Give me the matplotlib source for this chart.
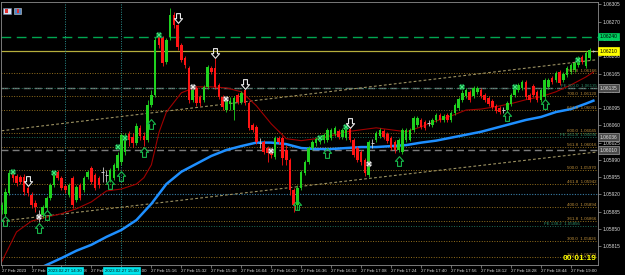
import numpy as np
import matplotlib

matplotlib.use("Agg")
import matplotlib.pyplot as plt
from matplotlib.path import Path
from matplotlib.patches import Rectangle
from matplotlib.transforms import blended_transform_factory

plt.rcParams["font.family"] = ["Liberation Sans", "DejaVu Sans"]

# prices are kept in points above BASE (1 point = 0.00001)
BASE = 1.05
PT = 1e-5

OPEN_PTS = [
    889, 881, 923, 964, 958, 956, 956, 933, 919, 903,
    881, 879, 893, 913, 939, 966, 954, 937, 919, 954,
    909, 939, 929, 956, 974, 960, 954, 966, 960, 950,
    954, 974, 986, 1006, 1043, 1037, 1025, 1055, 1039, 1031,
    1102, 1122, 1239, 1237, 1189, 1239, 1284, 1264, 1223, 1197,
    1177, 1112, 1136, 1118, 1112, 1138, 1177, 1177, 1142, 1118,
    1091, 1104, 1091, 1122, 1108, 1132, 1106, 1061, 1057, 1025,
    1027, 1014, 1010, 996, 1035, 1035, 1010, 990, 929, 899,
    933, 964, 986, 1014, 1025, 1027, 1031, 1031, 1035, 1043,
    1049, 1037, 1035, 1053, 1031, 1014, 1006, 990, 960, 1025,
    1031, 1039, 1049, 1043, 1035, 1027, 1010, 1006, 1031, 1031,
    1051, 1061, 1071, 1067, 1065, 1061, 1071, 1081, 1071, 1081,
    1071, 1085, 1096, 1112, 1120, 1128, 1120, 1128, 1132, 1122,
    1116, 1110, 1100, 1096, 1091, 1091, 1104, 1122, 1132, 1136,
    1148, 1122, 1140, 1128, 1112, 1118, 1138, 1156, 1152, 1169,
    1152, 1162, 1169, 1173, 1183, 1199, 1181, 1197, 1209,
]
CLOSE_PTS = [
    899, 925, 964, 954, 943, 945, 925, 923, 899, 895,
    881, 895, 913, 939, 960, 954, 933, 929, 939, 899,
    935, 913, 954, 966, 945, 933, 939, 966, 960, 970,
    980, 1000, 1041, 1037, 1031, 1025, 1059, 1039, 1031, 1102,
    1122, 1233, 1223, 1187, 1233, 1284, 1264, 1219, 1193, 1183,
    1112, 1132, 1106, 1106, 1138, 1179, 1169, 1138, 1118, 1098,
    1112, 1110, 1116, 1108, 1126, 1106, 1055, 1051, 1027, 1025,
    1006, 1004, 1000, 1035, 1027, 994, 990, 929, 899, 933,
    966, 986, 1014, 1027, 1033, 1031, 1041, 1051, 1051, 1055,
    1037, 1051, 1053, 1031, 1000, 990, 986, 964, 1027, 1025,
    1045, 1051, 1037, 1029, 1014, 1010, 1031, 1051, 1051, 1051,
    1075, 1075, 1057, 1055, 1065, 1071, 1081, 1071, 1079, 1071,
    1085, 1102, 1114, 1126, 1132, 1112, 1136, 1136, 1120, 1112,
    1104, 1098, 1089, 1087, 1091, 1106, 1122, 1136, 1142, 1148,
    1118, 1112, 1122, 1112, 1132, 1152, 1152, 1148, 1166, 1146,
    1164, 1177, 1183, 1187, 1197, 1189, 1207, 1213, 1210,
]
HIGH_PTS = [
    905, 933, 970, 970, 962, 960, 962, 937, 925, 909,
    889, 899, 917, 943, 962, 970, 958, 941, 943, 958,
    939, 943, 958, 970, 978, 964, 958, 976, 970, 974,
    984, 1006, 1045, 1045, 1049, 1045, 1065, 1061, 1047, 1112,
    1132, 1239, 1241, 1241, 1237, 1298, 1290, 1266, 1227, 1201,
    1181, 1136, 1140, 1122, 1142, 1183, 1181, 1197, 1146, 1122,
    1118, 1118, 1120, 1126, 1130, 1134, 1110, 1065, 1061, 1035,
    1031, 1018, 1014, 1039, 1039, 1039, 1020, 994, 933, 939,
    970, 990, 1018, 1031, 1037, 1035, 1045, 1055, 1055, 1059,
    1053, 1055, 1057, 1057, 1035, 1018, 1010, 994, 1031, 1033,
    1049, 1055, 1053, 1047, 1039, 1031, 1035, 1055, 1055, 1055,
    1079, 1079, 1075, 1071, 1071, 1075, 1085, 1085, 1083, 1085,
    1089, 1106, 1118, 1132, 1136, 1132, 1140, 1140, 1136, 1126,
    1120, 1114, 1104, 1100, 1098, 1110, 1126, 1140, 1146, 1152,
    1152, 1126, 1144, 1132, 1136, 1156, 1156, 1160, 1171, 1173,
    1169, 1181, 1187, 1191, 1201, 1203, 1211, 1217, 1212,
]
LOW_PTS = [
    881, 877, 919, 945, 937, 941, 919, 917, 893, 885,
    864, 872, 889, 909, 935, 950, 929, 923, 915, 893,
    905, 909, 925, 952, 941, 929, 933, 945, 945, 945,
    950, 970, 980, 1000, 1018, 1016, 1021, 1031, 1018, 1027,
    1098, 1118, 1217, 1181, 1185, 1233, 1258, 1213, 1189, 1177,
    1106, 1108, 1100, 1100, 1108, 1134, 1164, 1134, 1114, 1091,
    1087, 1091, 1071, 1104, 1104, 1102, 1051, 1047, 1023, 1014,
    1002, 986, 994, 992, 1023, 980, 980, 919, 885, 889,
    929, 960, 982, 1010, 1018, 1023, 1025, 1027, 1031, 1039,
    1033, 1033, 1031, 1027, 996, 986, 980, 958, 956, 1014,
    1027, 1035, 1033, 1025, 1010, 1004, 1006, 1002, 1027, 1029,
    1047, 1057, 1053, 1051, 1059, 1057, 1067, 1067, 1067, 1067,
    1067, 1081, 1091, 1108, 1116, 1108, 1116, 1124, 1116, 1108,
    1100, 1093, 1085, 1083, 1085, 1087, 1100, 1118, 1128, 1132,
    1114, 1108, 1118, 1108, 1108, 1114, 1134, 1144, 1148, 1142,
    1148, 1158, 1164, 1169, 1179, 1185, 1177, 1193, 1208,
]

# moving averages at these bars
SLOW_MA_BARS = list(range(8, 157, 4)) + [158]
SLOW_MA_PTS = [
    763, 777, 791, 806, 818, 834, 848, 868, 901, 941,
    966, 982, 998, 1010, 1018, 1025, 1025, 1022, 1014, 1012,
    1012, 1014, 1016, 1016, 1018, 1020, 1025, 1029, 1035, 1041,
    1047, 1055, 1063, 1071, 1077, 1087, 1093, 1104, 1110,
]
FAST_MA_BARS = [0, 4, 8, 12, 16, 20, 24, 28, 32, 36, 38, 40, 42, 44] + list(range(48, 157, 4)) + [158]
FAST_MA_PTS = [
    783, 844, 866, 874, 881, 891, 905, 927, 931, 941,
    954, 980, 1045, 1087,
    1126, 1138, 1138, 1136, 1128, 1100, 1063, 1033, 1029, 1033,
    1039, 1047, 1051, 1055, 1051, 1047, 1057, 1069, 1079, 1091,
    1093, 1098, 1104, 1112, 1118, 1128, 1142, 1158, 1168,
]

# channel lines (two anchors each)
CHANNEL_BARS = [0, 158.9]
UPPER_CHANNEL_PTS = [1049, 1193]
LOWER_CHANNEL_PTS = [866, 1006]

# signal markers: (bar, price in points)
GREEN_X_BARS = [3, 14, 31, 33, 42, 85, 92, 123, 137, 154]
GREEN_X_PTS = [966, 964, 1016, 1035, 1244, 1035, 1057, 1138, 1138, 1193]
WHITE_X_BARS = [10, 51, 60, 72, 98]
WHITE_X_PTS = [874, 1138, 1114, 1008, 982]
DOWN_ARROW_BARS = [7, 47, 57, 65, 93]
DOWN_ARROW_PTS = [947, 1278, 1207, 1144, 1065]
UP_ARROW_BARS = [1, 10, 12, 29, 32, 38, 40, 79, 87, 106, 135, 145]
UP_ARROW_PTS = [866, 852, 879, 941, 958, 1006, 1063, 899, 1004, 988, 1079, 1104]

# horizontal objects
GREEN_LEVEL = 1.06240
BID = 1.06210
GREY_LEVELS = [1.06135, 1.06010]
BLUE_DOT_LEVEL = 1.05921
FIB_NAMES = ["761.8", "700.0", "661.8", "600.0", "561.8", "500.0",
             "461.8", "400.0", "361.8", "300.0", "261.8"]
FIB_PRICES = [1.06166, 1.06120, 1.06091, 1.06045, 1.06016, 1.05970,
              1.05942, 1.05894, 1.05866, 1.05826, 1.05793]
FE_NAMES = ["FE 200.0", "FE 161.8", "FE 138.2"]
FE_PRICES = [1.06135, 1.06036, 1.05856]
BOX_GREY = [1.06135, 1.06036, 1.06010]

VLINE_BARS = [17, 32]
VLINE_LABELS = ["2023.02.27 14:30", "2023.02.27 15:00"]

Y_TICKS = [1.05815 + 0.00035 * k for k in range(15)]
TIME_BARS = list(range(0, 153, 8))
TIME_LABELS = [
    "27 Feb 2023", "27 Feb 14:12", "27 Feb 14:28", "27 Feb 14:44",
    "27 Feb 15:00", "27 Feb 15:16", "27 Feb 15:32", "27 Feb 15:48",
    "27 Feb 16:04", "27 Feb 16:20", "27 Feb 16:36", "27 Feb 16:52",
    "27 Feb 17:08", "27 Feb 17:24", "27 Feb 17:40", "27 Feb 17:56",
    "27 Feb 18:12", "27 Feb 18:28", "27 Feb 18:44", "27 Feb 19:00",
]
COUNTDOWN = "00:01:19"

BULL = "#1fd11f"
BEAR = "#ff1414"
DOJI = "#c8c8c8"
AXIS_TXT = "#dcdcdc"


def price(pts):
    return BASE + np.asarray(pts, dtype=float) * PT


def arrow_path(up=True):
    s = 1 if up else -1
    verts = [(-0.2, -0.5), (0.2, -0.5), (0.2, 0.02), (0.42, 0.02), (0, 0.5),
             (-0.42, 0.02), (-0.2, 0.02), (-0.2, -0.5)]
    verts = [(x, s * y) for x, y in verts]
    codes = [Path.MOVETO] + [Path.LINETO] * 6 + [Path.CLOSEPOLY]
    return Path(verts, codes)


fig = plt.figure(figsize=(6.25, 2.75), dpi=100, facecolor="black")
ax = fig.add_axes([1 / 625, 10 / 275, 596.5 / 625, 263 / 275])
ax.set_facecolor("black")
ax.set_xlim(-0.15, 159.1)
ax.set_ylim(1.05777, 1.06310)

# ── horizontal levels ──
ax.axhline(GREEN_LEVEL, color="#00a651", lw=1.0, dashes=(7, 4), zorder=1)
ax.axhline(BID, color="#b5ae3c", lw=0.9, zorder=1)
for p in GREY_LEVELS:
    ax.axhline(p, color="#7c7c7c", lw=1.0, dashes=(5, 3), zorder=1)
for p in FIB_PRICES:
    ax.axhline(p, color="#94701e", lw=0.7, ls=(0, (1, 1.6)), zorder=1)
for p in FE_PRICES:
    ax.axhline(p, color="#1f6f5a", lw=0.7, ls=(0, (1, 1.6)), zorder=1)
ax.axhline(BLUE_DOT_LEVEL, color="#3a7fa8", lw=0.8, ls=(0, (1, 1.4)), zorder=1)

for b in VLINE_BARS:
    ax.axvline(b, color="#2a8f8f", lw=0.7, ls=(0, (1, 1.5)), zorder=1)

# ── channel ──
ax.plot(CHANNEL_BARS, price(UPPER_CHANNEL_PTS), color="#9d9262",
        lw=0.8, dashes=(2.5, 2), zorder=1.5)
ax.plot(CHANNEL_BARS, price(LOWER_CHANNEL_PTS), color="#9d9262",
        lw=0.8, dashes=(2.5, 2), zorder=1.5)

# ── moving averages ──
ax.plot(SLOW_MA_BARS, price(SLOW_MA_PTS), color="#1e8fff", lw=1.8,
        solid_joinstyle="round", zorder=2.5)
ax.plot(FAST_MA_BARS, price(FAST_MA_PTS), color="#a00000", lw=0.8,
        zorder=2.4)

# ── candles ──
o, h, l, c = (price(v) for v in (OPEN_PTS, HIGH_PTS, LOW_PTS, CLOSE_PTS))
idx = np.arange(len(o))
flat = np.isclose(o, c)
col = np.where(c > o, BULL, BEAR)
col[flat] = DOJI
ax.vlines(idx, l, h, colors=col, lw=0.6, zorder=3)
ax.bar(idx[~flat], (c - o)[~flat], bottom=o[~flat], width=0.68,
       color=col[~flat], lw=0, zorder=3.1)
ax.hlines(c[flat], idx[flat] - 0.35, idx[flat] + 0.35, colors=DOJI,
          lw=0.7, zorder=3.1)

# ── signals ──
ax.plot(GREEN_X_BARS, price(GREEN_X_PTS), ls="none", marker="X", ms=4.2,
        mfc="#40f07c", mec="#0b7a3a", mew=0.3, zorder=5)
ax.plot(WHITE_X_BARS, price(WHITE_X_PTS), ls="none", marker="X", ms=4.2,
        mfc="#f2f2f2", mec="#808080", mew=0.3, zorder=5)
ax.plot(UP_ARROW_BARS, price(UP_ARROW_PTS), ls="none",
        marker=arrow_path(True), ms=7, mfc="none", mec="#17b84a",
        mew=0.8, zorder=5)
ax.plot(DOWN_ARROW_BARS, price(DOWN_ARROW_PTS), ls="none",
        marker=arrow_path(False), ms=7, mfc="none", mec="#e8e8e8",
        mew=0.8, zorder=5)

# ── level labels ──
for name, p in zip(FIB_NAMES, FIB_PRICES):
    ax.text(158.8, p, f"{name}  {p:.5f}", color="#c0903a", fontsize=3.2,
            ha="right", va="bottom", zorder=6)
for name, p in zip(FE_NAMES, FE_PRICES):
    ax.text(158.8 if name != "FE 138.2" else 154.5, p, f"{name}  {p:.5f}",
            color="#2f8f6a", fontsize=3.2, ha="right", va="bottom", zorder=6)

# ── axes styling ──
for sp in ax.spines.values():
    sp.set_color("#8c8c8c")
    sp.set_linewidth(0.6)
ax.yaxis.tick_right()
ax.set_yticks(Y_TICKS)
ax.set_yticklabels([f"{v:.5f}" for v in Y_TICKS])
ax.tick_params(axis="y", colors="#9a9a9a", labelcolor=AXIS_TXT,
               labelsize=3.5, length=2, width=0.5, pad=1.5)
ax.set_xticks(TIME_BARS)
ax.set_xticklabels(TIME_LABELS, ha="left")
ax.tick_params(axis="x", colors="#9a9a9a", labelcolor=AXIS_TXT,
               labelsize=3.2, length=2, width=0.5, pad=1.0)

# price boxes on the right scale
ty = blended_transform_factory(ax.transAxes, ax.transData)


def price_box(p, fc, tc, ec):
    ax.text(1.004, p, f"{p:.5f}", transform=ty, fontsize=3.5, color=tc,
            ha="left", va="center", zorder=10, clip_on=False,
            bbox=dict(boxstyle="square,pad=0.3", fc=fc, ec=ec, lw=0.5))


price_box(GREEN_LEVEL, "#00d060", "#000000", "#00d060")
price_box(BID, "#ffff00", "#000000", "#ffff00")
for p in BOX_GREY:
    price_box(p, "#4a4a4a", "#e0e0e0", "#a0a0a0")

# vertical line time labels
tx = blended_transform_factory(ax.transData, ax.transAxes)
for b, lab in zip(VLINE_BARS, VLINE_LABELS):
    ax.text(b, -0.021, lab, transform=tx, fontsize=3.2, color="#101010",
            ha="center", va="center", zorder=10, clip_on=False,
            bbox=dict(boxstyle="square,pad=0.3", fc="#00e4ec", ec="#00e4ec",
                      lw=0.5))

# bar countdown
ax.text(0.998, 0.024, COUNTDOWN, transform=ax.transAxes, ha="right",
        va="center", color="#ffff00", fontsize=6.0, fontweight="bold",
        zorder=10)

# tiny toolbar icons top-left
ax.add_patch(Rectangle((0.004, 0.955), 0.012, 0.022, transform=ax.transAxes,
                       fc="#d8e4f4", ec="#6a7aa0", lw=0.4, zorder=10))
ax.add_patch(Rectangle((0.007, 0.96), 0.004, 0.012, transform=ax.transAxes,
                       fc="#e03030", lw=0, zorder=11))
ax.add_patch(Rectangle((0.022, 0.955), 0.012, 0.022, transform=ax.transAxes,
                       fc="#4f86c6", ec="#d0d0d0", lw=0.4, zorder=10))
ax.add_patch(Rectangle((0.027, 0.96), 0.004, 0.012, transform=ax.transAxes,
                       fc="#e03030", lw=0, zorder=11))

fig.savefig("out.png", dpi=100, facecolor="black")
